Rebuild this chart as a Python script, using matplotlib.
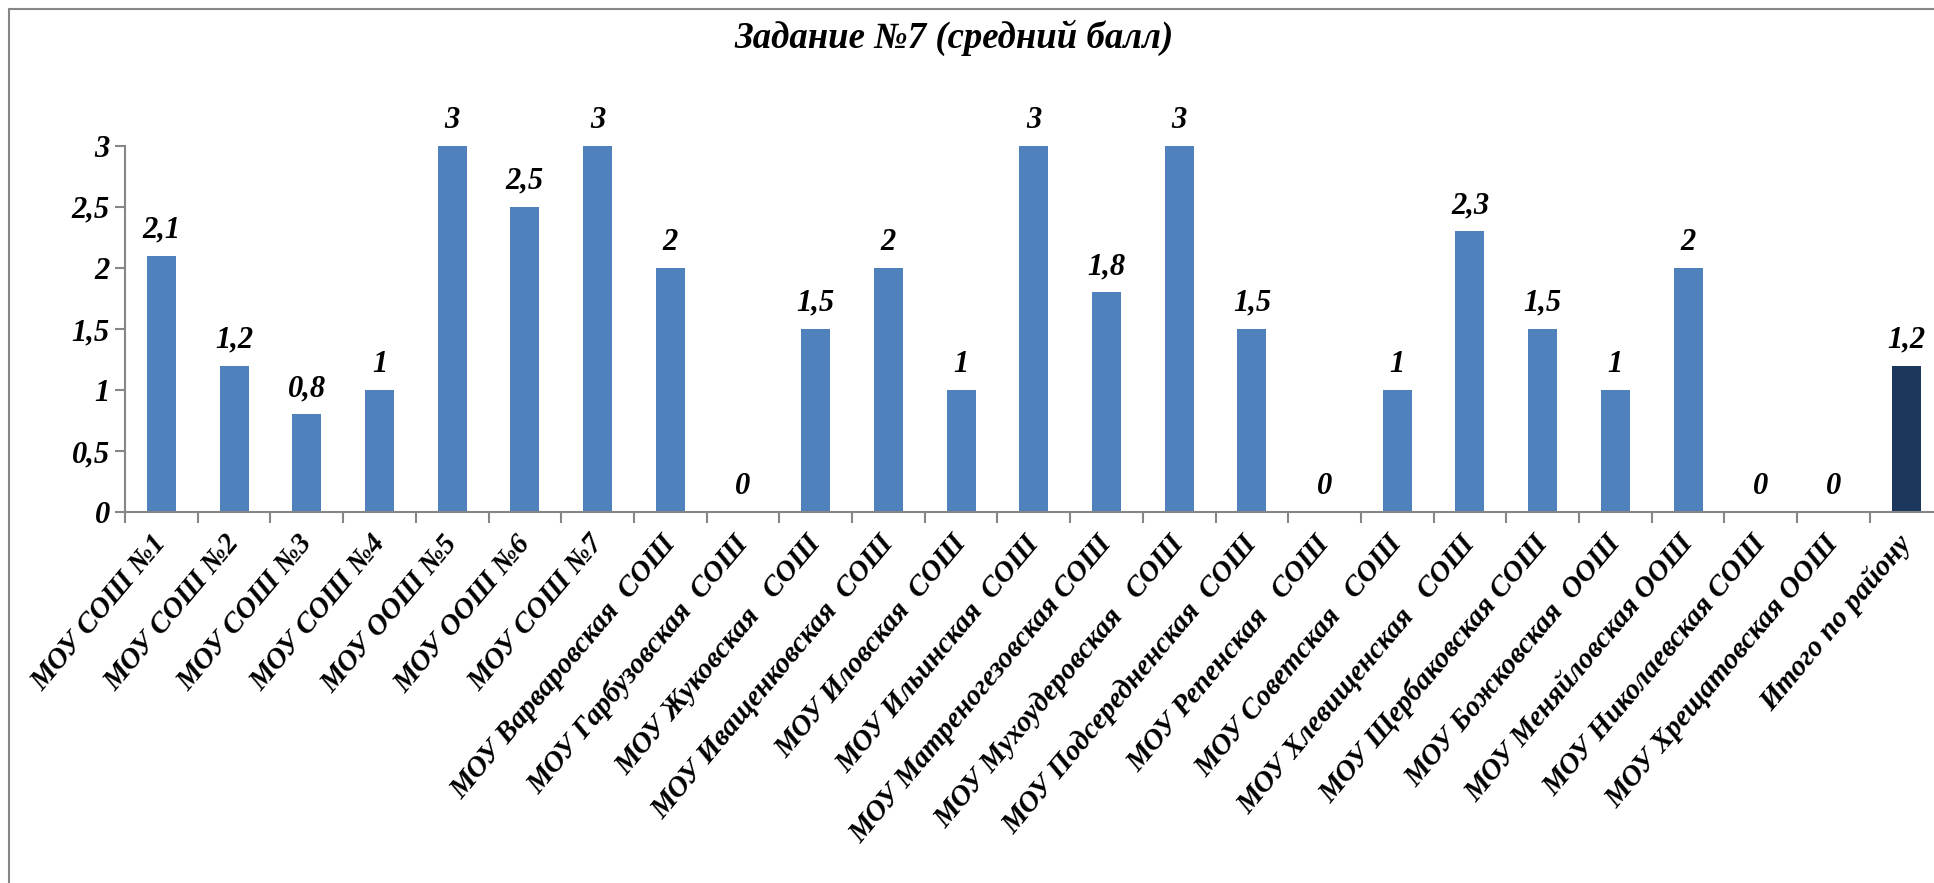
import numpy as np
import matplotlib.pyplot as plt
from matplotlib.patches import Rectangle

# данные
schools = ["МОУ СОШ №1", "МОУ СОШ №2", "МОУ СОШ №3", "МОУ СОШ №4", "МОУ ООШ №5",
           "МОУ ООШ №6", "МОУ СОШ №7", "МОУ Варваровская  СОШ", "МОУ Гарбузовская  СОШ",
           "МОУ Жуковская   СОШ", "МОУ Иващенковская  СОШ", "МОУ Иловская  СОШ",
           "МОУ Ильинская  СОШ", "МОУ Матреногезовская СОШ", "МОУ Мухоудеровская   СОШ",
           "МОУ Подсередненская  СОШ", "МОУ Репенская   СОШ", "МОУ Советская   СОШ",
           "МОУ Хлевищенская   СОШ", "МОУ Щербаковская СОШ", "МОУ Божковская  ООШ",
           "МОУ Меняйловская ООШ", "МОУ Николаевская СОШ", "МОУ Хрещатовская ООШ",
           "Итого по району"]
scores = [2.1, 1.2, 0.8, 1, 3, 2.5, 3, 2, 0, 1.5, 2, 1, 3, 1.8, 3, 1.5, 0, 1, 2.3, 1.5,
          1, 2, 0, 0, 1.2]
y_ticks = [0, 0.5, 1, 1.5, 2, 2.5, 3]

font = dict(family="Liberation Serif", weight="bold", style="italic")
gray = "#868686"

fig = plt.figure(figsize=(19.34, 8.83), dpi=100)
# рамка диаграммы
fig.patches.append(Rectangle((9 / 1934, -0.1), 1.2, 1 - 9 / 883 + 0.1, transform=fig.transFigure,
                             fill=False, edgecolor=gray, linewidth=1.5))
fig.text(954 / 1934, 1 - 38 / 883, "Задание №7 (средний балл)", ha="center", va="center",
         fontsize=26.5, **font)

ax = fig.add_axes([125 / 1934, 0.42, 1817.5 / 1934, 0.415])
x = np.arange(len(schools))
colors = ["#4F81BD"] * (len(schools) - 1) + ["#1B375E"]
ax.bar(x, scores, width=0.4, color=colors)

for xi, v in zip(x, scores):
    ax.annotate(f"{v:g}".replace(".", ","), (xi, v), xytext=(0, 8), textcoords="offset points",
                ha="center", va="bottom", fontsize=22, **font)

ax.set_xlim(-0.5, len(schools) - 0.5)
ax.set_ylim(0, 3)
ax.set_yticks(y_ticks)
ax.set_yticklabels([f"{t:g}".replace(".", ",") for t in y_ticks], fontsize=22, **font)
# подписи чуть правее центра категории (основные деления не рисуются)
ax.set_xticks(x + 0.15)
ax.set_xticklabels(schools, rotation=50, ha="right", va="top", fontsize=21, **font)
ax.set_xticks(np.arange(len(schools) + 1) - 0.5, minor=True)
ax.tick_params(axis="x", which="major", length=0, pad=13)
ax.tick_params(axis="x", which="minor", length=8, color=gray, width=1.5)
ax.tick_params(axis="y", length=7, color=gray, width=1.5, pad=4)

for s in ["top", "right"]:
    ax.spines[s].set_visible(False)
for s in ["left", "bottom"]:
    ax.spines[s].set_color(gray)
    ax.spines[s].set_linewidth(1.5)

fig.savefig("out.png", dpi=100)
